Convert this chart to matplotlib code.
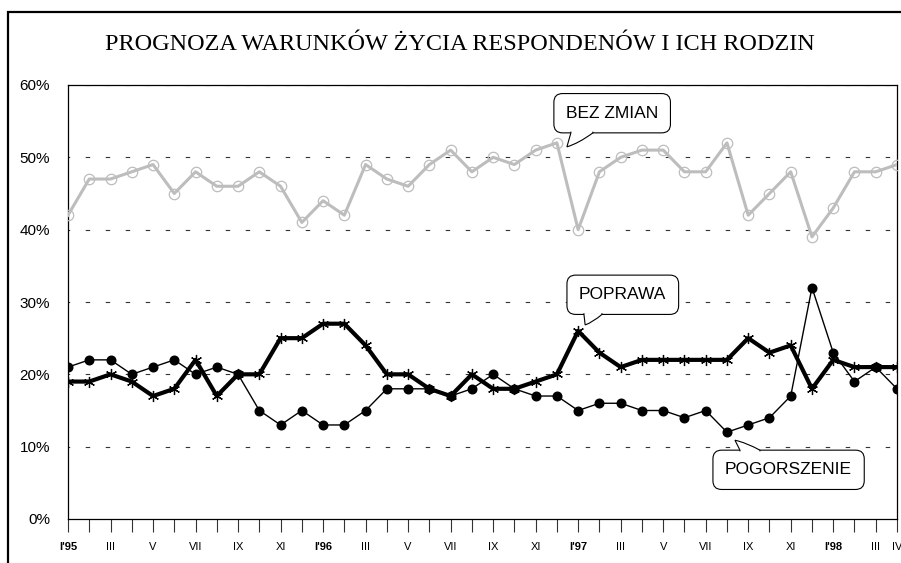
import matplotlib
matplotlib.use('Agg')
import matplotlib.pyplot as plt
from matplotlib.patches import Rectangle, PathPatch
from matplotlib.path import Path
from matplotlib.transforms import IdentityTransform

# values, monthly I'95 .. IV'98 (in %)
bez_zmian = [42, 47, 47, 48, 49, 45, 48, 46, 46, 48, 46, 41, 44, 42, 49, 47, 46, 49, 51, 48,
             50, 49, 51, 52, 40, 48, 50, 51, 51, 48, 48, 52, 42, 45, 48, 39, 43, 48, 48, 49]
poprawa = [19, 19, 20, 19, 17, 18, 22, 17, 20, 20, 25, 25, 27, 27, 24, 20, 20, 18, 17, 20,
           18, 18, 19, 20, 26, 23, 21, 22, 22, 22, 22, 22, 25, 23, 24, 18, 22, 21, 21, 21]
pogorszenie = [21, 22, 22, 20, 21, 22, 20, 21, 20, 15, 13, 15, 13, 13, 15, 18, 18, 18, 17, 18,
               20, 18, 17, 17, 15, 16, 16, 15, 15, 14, 15, 12, 13, 14, 17, 32, 23, 19, 21, 18]

month_labels = ["I'95", '', 'III', '', 'V', '', 'VII', '', 'IX', '', 'XI', '',
                "I'96", '', 'III', '', 'V', '', 'VII', '', 'IX', '', 'XI', '',
                "I'97", '', 'III', '', 'V', '', 'VII', '', 'IX', '', 'XI', '',
                "I'98", '', 'III', 'IV']
y_ticks = [0, 10, 20, 30, 40, 50, 60]

plt.rcParams['font.family'] = ['Liberation Sans', 'DejaVu Sans']
plt.rcParams['lines.scale_dashes'] = False

fig = plt.figure(figsize=(9.01, 5.63), dpi=100)
ax = fig.add_axes([68 / 901, 1 - 519 / 563, (897 - 68) / 901, (519 - 85) / 563])

x = list(range(len(bez_zmian)))

# gridlines
for v in y_ticks[1:]:
    ax.axhline(v, color='#333333', lw=0.8, ls=(2, (3.2, 11.2)), zorder=1)

ax.plot(x, bez_zmian, color='#bdbdbd', lw=2.2, marker='o', ms=7.5,
        mfc='none', mec='#bdbdbd', mew=0.9, zorder=3)
ax.plot(x, pogorszenie, color='black', lw=1.0, marker='o', ms=6.2, zorder=4)
ax.plot(x, poprawa, color='black', lw=3.0, marker=(6, 2, 0), ms=8, mew=0.9, zorder=5)

ax.set_xlim(0, len(x) - 1)
ax.set_ylim(0, 60)
ax.set_yticks(y_ticks)
ax.set_yticklabels([f'{v}%' for v in y_ticks], fontsize=11)
ax.tick_params(axis='y', length=0, pad=13)
ax.set_xticks(x)
ax.set_xticklabels(month_labels, fontsize=8)
ax.tick_params(axis='x', length=9, width=0.8, color='#333333', pad=7.5)
for lbl in ax.get_xticklabels():
    if "'" in lbl.get_text():
        lbl.set_fontweight('bold')

for s in ax.spines.values():
    s.set_color('black')
    s.set_linewidth(0.9)

# callout boxes
box = dict(boxstyle='round,pad=0.7,rounding_size=0.5', fc='white', ec='black', lw=0.8)
callouts = [
    # text, series, index, box centre, tail base (px from box left), tip offset (px), side
    ('BEZ ZMIAN', bez_zmian, 23, (25.6, 56.1), (17, 39), (10, -4), 'bottom'),
    ('POPRAWA', poprawa, 24, (26.1, 31.0), (17, 35), (7, 6), 'bottom'),
    ('POGORSZENIE', pogorszenie, 31, (33.9, 6.8), (27, 47), (8, -8), 'top'),
]
anns = []
for text, vals, i, pos, base, tip, side in callouts:
    t = ax.text(pos[0], pos[1], text, ha='center', va='center', fontsize=12.5,
                bbox=box, zorder=6)
    anns.append(t)

fig.text(460 / 901, 1 - 44 / 563, 'PROGNOZA WARUNKÓW ŻYCIA RESPONDENÓW I ICH RODZIN',
         ha='center', va='center', fontsize=17.5, family=['Liberation Serif', 'DejaVu Serif'])

# outer chart frame
fig.patches.append(Rectangle((8 / 901, -0.1), 1.2, 1.1 - 12 / 563, transform=fig.transFigure,
                             fill=False, ec='black', lw=1.6))

# speech-bubble tails, drawn in pixel coordinates once the boxes are laid out
fig.canvas.draw()
renderer = fig.canvas.get_renderer()
for t, (text, vals, i, pos, base, tip, side) in zip(anns, callouts):
    bb = t.get_bbox_patch().get_window_extent(renderer)
    px, py = ax.transData.transform((i, vals[i]))
    tx, ty = px + tip[0], py + tip[1]
    if side == 'bottom':
        ey, inside = bb.y0, 1.2
    else:
        ey, inside = bb.y1, -1.2
    bl, br = bb.x0 + base[0], bb.x0 + base[1]
    ctrl = (tx + 0.45 * (br - tx), ty + 0.25 * (ey - ty))
    verts = [(bl, ey + inside), (bl, ey), (tx, ty), ctrl, (br, ey), (br, ey + inside)]
    codes = [Path.MOVETO, Path.LINETO, Path.LINETO, Path.CURVE3, Path.CURVE3, Path.LINETO]
    fig.add_artist(PathPatch(Path(verts, codes), transform=IdentityTransform(),
                             fc='white', ec='black', lw=0.8, zorder=7))

fig.savefig('out.png', dpi=100)
